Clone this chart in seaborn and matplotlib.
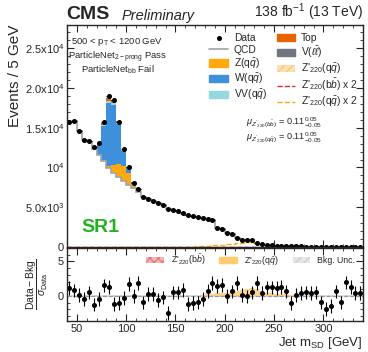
import matplotlib
matplotlib.use("Agg")
import matplotlib.pyplot as plt
import matplotlib.patches as mpatches
import matplotlib.lines as mlines
import seaborn as sns
import pandas as pd
import numpy as np

sns.set_style("ticks")
plt.rcParams['font.family'] = ['Liberation Sans', 'DejaVu Sans']
plt.rcParams['mathtext.fontset'] = 'custom'
plt.rcParams['mathtext.rm'] = 'Liberation Sans'
plt.rcParams['mathtext.it'] = 'Liberation Sans:italic'
plt.rcParams['mathtext.bf'] = 'Liberation Sans:bold'

# binning: 5 GeV bins from 40 to 340
edges = np.arange(40, 345, 5)
centers = edges[:-1] + 2.5

data = [15740, 15870, 14600, 13420, 13330, 12570, 13130, 15660, 18950, 18480,
        15740, 12370, 10090, 8060, 7300, 6300, 6000, 5800, 5520, 5250,
        4800, 4680, 4530, 4340, 4050, 3850, 3720, 3640, 3520, 3450,
        2370, 2250, 1800, 1650, 1100, 900, 880, 870, 480, 400,
        280, 260, 200, 190, 150, 120, 100, 80, 70, 60,
        50, 45, 40, 35, 30, 28, 25, 22, 20, 18]

qcd = [15700, 15800, 14600, 13400, 13200, 12300, 11600, 10800, 9900, 9300,
       8800, 8300, 7850, 7400, 6950, 6250, 6000, 5800, 5520, 5250,
       4800, 4680, 4530, 4340, 4050, 3850, 3720, 3640, 3520, 3450,
       2370, 2250, 1800, 1650, 1100, 900, 880, 870, 480, 400,
       280, 260, 200, 190, 150, 120, 100, 80, 70, 60,
       50, 45, 40, 35, 30, 28, 25, 22, 20, 18]

zqq = [0]*7 + [100, 300, 1000, 1600, 1900, 1450, 600, 350, 100] + [0]*44
wqq = [0]*4 + [100, 250, 1400, 4300, 7900, 7600, 5100, 1900, 700, 150, 50] + [0]*45
vvqq = [0]*6 + [50, 150, 200, 200, 150, 80, 50] + [0]*47
top = [0]*7 + [200, 350, 300, 100] + [0]*49
vll = [0]*6 + [20, 30, 40, 40, 30, 20] + [0]*48

# signal x2, main panel
sig_qq = [0]*22 + [20, 30, 45, 65, 90, 120, 160, 210, 260, 320, 380, 440, 500,
                   550, 590, 600, 560, 450, 280, 140, 60, 20] + [0]*16
sig_bb = [0]*28 + [5, 8, 10, 12, 15, 18, 20, 22, 22, 20, 15, 10, 5] + [0]*19

# pulls (Data - Bkg) / sigma_Data
pull = [1.12, 0.78, 0.15, -0.48, 0.48, -1.30, -0.48, 1.50, 1.27, -1.17,
        -1.07, -0.34, 1.75, 0.00, 1.85, -0.97, 0.24, 0.24, -0.58, -0.24,
        -2.53, 0.48, 0.48, 0.87, -1.17, -1.07, -0.97, -0.48, 0.70, 1.85,
        1.46, 1.60, 0.00, 0.63, 1.85, 0.15, -0.10, 0.48, 1.85, 0.39,
        1.20, 1.20, 1.12, 1.27, 0.63, -1.07, 0.15, 0.39, 0.48, 0.39,
        0.48, -0.97, -1.94, -1.46, 0.63, -0.97, 1.94, 1.27, 0.39, 0.39]
ratio_sig_qq = [0]*27 + [0.15, 0.25, 0.30, 0.35, 0.35, 0.40, 0.50, 0.70, 0.90,
                         1.05, 1.10, 1.00, 0.70, 0.45, 0.35, 0.30, 0.30, 0.25,
                         0.10] + [0]*14
ratio_sig_bb = [0]*30 + [0.03, 0.05, 0.06, 0.06, 0.05, 0.03] + [0]*24
bkg_unc = 0.15

procs = ["V(ll)", "Top", "VV", "W", "Z", "QCD"]
colors = {"V(ll)": "#717581", "Top": "#e76300", "VV": "#92dadd",
          "W": "#3f90da", "Z": "#ffa90e", "QCD": "white"}
vals = {"V(ll)": vll, "Top": top, "VV": vvqq, "W": wqq, "Z": zqq, "QCD": qcd}

df = pd.concat([pd.DataFrame({"mass": centers, "count": vals[p], "proc": p})
                for p in procs], ignore_index=True)

fig = plt.figure(figsize=(3.68, 3.52), dpi=100)
ax = fig.add_axes([0.182, 0.298, 0.804, 0.631])
rax = fig.add_axes([0.182, 0.088, 0.804, 0.208], sharex=ax)

sns.histplot(data=df, x="mass", weights="count", hue="proc", hue_order=procs,
             multiple="stack", binwidth=5, binrange=(40, 340), element="step",
             fill=True, palette=colors, alpha=1, linewidth=0, legend=False, ax=ax)
ax.stairs(qcd, edges, color="#a0a4a8", linewidth=1.2)
ax.stairs(sig_bb, edges, color="#e42536", linestyle="--", linewidth=1)
ax.stairs(sig_qq, edges, color="#ffa90e", linestyle="--", linewidth=1)
ax.errorbar(centers, data, yerr=np.sqrt(data), xerr=2.5, fmt="o", color="black",
            markersize=2.6, elinewidth=0.8, capsize=0)

ax.set_xlim(40, 340)
ax.set_ylim(0, 27900)
ax.set_yticks([0, 5000, 10000, 15000, 20000, 25000])
ax.set_yticklabels(["0", r"5.0x$10^{3}$", r"$10^{4}$", r"1.5x$10^{4}$",
                    r"2.0x$10^{4}$", r"2.5x$10^{4}$"])
ax.set_ylabel("Events / 5 GeV", fontsize=11, loc="top", labelpad=2)
ax.set_xlabel("")
ax.tick_params(labelbottom=False)

for a in (ax, rax):
    a.minorticks_on()
    a.tick_params(which="both", direction="in", top=True, right=True, labelsize=8,
                  pad=2)
    a.tick_params(which="major", length=5)
    a.tick_params(which="minor", length=2.5)
    for s in a.spines.values():
        s.set_linewidth(1)
ax.set_xticks(np.arange(50, 341, 50))
ax.set_xticks(np.arange(40, 341, 10), minor=True)
ax.set_yticks(np.arange(0, 27900, 1000), minor=True)

# text
ax.text(0.17, 0.95, r"500 < p$_{\mathrm{T}}$ < 1200 GeV", transform=ax.transAxes,
        ha="center", va="top", fontsize=6.8)
ax.text(0.17, 0.89, r"ParticleNet$_{\mathrm{2-prong}}$ Pass", transform=ax.transAxes,
        ha="center", va="top", fontsize=6.8)
ax.text(0.17, 0.825, r"ParticleNet$_{\mathrm{bb}}$ Fail", transform=ax.transAxes,
        ha="center", va="top", fontsize=6.8)
ax.text(0.605, 0.565, r"$\mu_{Z'_{220}(b\bar{b})}$ = 0.11$^{0.05}_{-0.05}$",
        transform=ax.transAxes, ha="left", va="center", fontsize=6.6)
ax.text(0.605, 0.497, r"$\mu_{Z'_{220}(q\bar{q})}$ = 0.11$^{0.05}_{-0.05}$",
        transform=ax.transAxes, ha="left", va="center", fontsize=6.6)
ax.text(0.05, 0.09, "SR1", transform=ax.transAxes, color="#1fb31f",
        fontsize=14, fontweight="bold", ha="left", va="center")

fig.text(0.18, 0.935, "CMS", fontsize=14, fontweight="bold", ha="left", va="bottom")
fig.text(0.33, 0.935, "Preliminary", fontsize=10.5, style="italic", ha="left", va="bottom")
fig.text(0.986, 0.935, r"138 fb$^{-1}$ (13 TeV)", fontsize=10, ha="right", va="bottom")

h1 = [mlines.Line2D([], [], color="black", marker="o", markersize=2.6, linestyle="none"),
      mlines.Line2D([], [], color="#a0a4a8", linewidth=1.2),
      mpatches.Patch(color="#ffa90e"),
      mpatches.Patch(color="#3f90da"),
      mpatches.Patch(color="#92dadd"),
      mpatches.Patch(color="#e76300"),
      mpatches.Patch(color="#717581"),
      mpatches.Patch(facecolor="#fde0b0", edgecolor="#f7c98a", hatch="////", linewidth=0),
      mlines.Line2D([], [], color="#e42536", linestyle="--", linewidth=1),
      mlines.Line2D([], [], color="#ffa90e", linestyle="--", linewidth=1)]
l1 = ["Data", "QCD", r"Z(q$\bar{q}$)", r"W(q$\bar{q}$)", r"VV(q$\bar{q}$)",
      "Top", r"V($\ell\bar{\ell}$)", r"Z$'_{220}$(q$\bar{q}$)",
      r"Z$'_{220}$(b$\bar{b}$) x 2", r"Z$'_{220}$(q$\bar{q}$) x 2"]
ax.legend(h1, l1, ncol=2, fontsize=7.4, frameon=False, loc="upper right",
          bbox_to_anchor=(1.015, 1.005), handlelength=1.8, columnspacing=0.9,
          labelspacing=0.17, handletextpad=0.6)

# ratio panel
rax.fill_between(edges, -bkg_unc, bkg_unc, color="#dddddd", hatch="////",
                 edgecolor="#cfcfcf", linewidth=0, step="pre")
rax.stairs(ratio_sig_bb, edges, fill=True, facecolor="#f2b6b6", hatch="xxxx",
           edgecolor="#e08080", linewidth=0)
rax.stairs(ratio_sig_qq, edges, fill=True, color="#ffca70", alpha=0.8, linewidth=0)
rax.axhline(0, color="#999999", linestyle="--", linewidth=0.8)
rax.errorbar(centers, pull, yerr=1, xerr=0, fmt="o", color="black",
             markersize=2.6, elinewidth=0.8, capsize=0)
rax.set_ylim(-3.7, 7)
rax.set_yticks([0, 5])
rax.set_yticks(np.arange(-3, 7, 1), minor=True)
rax.set_ylabel(r"$\dfrac{\mathrm{Data-Bkg}}{\sigma_{\mathrm{Data}}}$", fontsize=7.5,
               labelpad=6)
rax.set_xlabel(r"Jet m$_{\mathrm{SD}}$ [GeV]", fontsize=9.5, loc="right", labelpad=1)

h2 = [mpatches.Patch(facecolor="#f2b6b6", edgecolor="#e08080", hatch="xxxx", linewidth=0),
      mpatches.Patch(color="#ffca70"),
      mpatches.Patch(facecolor="#e6e6e6", edgecolor="#cfcfcf", hatch="////", linewidth=0)]
l2 = [r"Z$'_{220}$(b$\bar{b}$)", r"Z$'_{220}$(q$\bar{q}$)", "Bkg. Unc."]
rax.legend(h2, l2, ncol=3, fontsize=6.3, frameon=False, loc="upper right",
           bbox_to_anchor=(1.0, 1.04), handlelength=2.0, columnspacing=1.6)

fig.savefig("out.png", dpi=100)
